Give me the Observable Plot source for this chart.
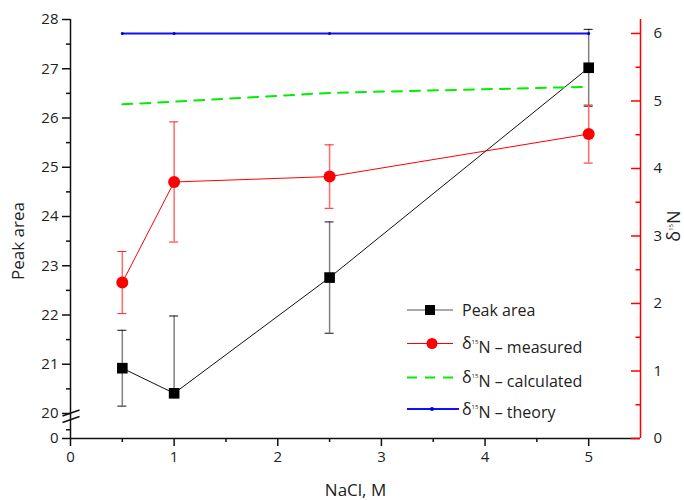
<!DOCTYPE html>
<html><head><meta charset="utf-8">
<script src="https://cdn.jsdelivr.net/npm/d3@7"></script>
<script src="https://cdn.jsdelivr.net/npm/@observablehq/plot@0.6"></script>
<style>
body{margin:0;background:#fff;}
#chart{position:relative;width:684px;height:500px;font-family:"Open Sans",sans-serif;}
#chart svg{position:absolute;left:0;top:0;overflow:visible;}
</style></head><body><div id="chart"></div>
<script>
// ---- data ----
const nacl = [0.5, 1, 2.5, 5];
const peakArea = [20.92, 20.41, 22.76, 27.02];
const peakErrLow = [0.77, 0, 1.13, 0.78];
const peakErrHigh = [0.77, 1.57, 1.13, 0.78];
const d15Measured = [2.31, 3.80, 3.88, 4.51];
const d15MeasuredErr = [0.46, 0.89, 0.47, 0.43];
const d15Calculated = [4.95, 4.99, 5.12, 5.21];
const d15Theory = [6, 6, 6, 6];
// ---- ticks ----
const xTicks = [0, 1, 2, 3, 4, 5];
const xMinorTicks = [0.5, 1.5, 2.5, 3.5, 4.5];
const leftTicks = [0, 20, 21, 22, 23, 24, 25, 26, 27, 28];
const leftMinorTicks = [7, 20.5, 21.5, 22.5, 23.5, 24.5, 25.5, 26.5, 27.5];
const rightTicks = [0, 1, 2, 3, 4, 5, 6];
const rightMinorTicks = [0.5, 1.5, 2.5, 3.5, 4.5, 5.5];
const legendLabels = ["Peak area", " – measured", " – calculated", " – theory"];
const xLabel = "NaCl, M";
const yLabel = "Peak area";
// axis-break decoration (two slashes)
const breakMarks = [{x1: -0.077, y1: 18.0, x2: 0.087, y2: 20.07}, {x1: -0.077, y1: 12.8, x2: 0.087, y2: 17.6}];

const peak = nacl.map((x, i) => ({x, y: peakArea[i], lo: peakArea[i] - peakErrLow[i], hi: peakArea[i] + peakErrHigh[i]}));
const meas = nacl.map((x, i) => ({x, y: d15Measured[i], lo: d15Measured[i] - d15MeasuredErr[i], hi: d15Measured[i] + d15MeasuredErr[i]}));
const calc = nacl.map((x, i) => ({x, y: d15Calculated[i]}));
const theo = nacl.map((x, i) => ({x, y: d15Theory[i]}));

const W = 684, H = 500, ML = 70, MR = 44, MT = 19, MB = 62;
const xDomain = [0, 5.5];
const common = {width: W, height: H, marginLeft: ML, marginRight: MR, marginTop: MT, marginBottom: MB,
  style: {fontFamily: "'Open Sans', sans-serif", fontSize: "14px", background: "transparent", color: "#222"}};

const plotLeft = Plot.plot({
  ...common,
  x: {domain: xDomain, axis: null},
  y: {type: "linear", domain: [0, 20, 28], range: [H - MB, H - MB - 25, MT], axis: null},
  marks: [
    Plot.ruleY([0], {stroke: "#111", strokeWidth: 1.5}),
    Plot.ruleX([0], {stroke: "#111", strokeWidth: 1.5}),
    Plot.axisX(xTicks, {tickSize: 8, tickPadding: 5, stroke: "#111", strokeWidth: 1.5, fontSize: 15, tickFormat: d3.format("d")}),
    Plot.axisX(xMinorTicks, {tickSize: 4, tickFormat: () => "", stroke: "#111", strokeWidth: 1.5}),
    Plot.axisY(leftTicks, {tickSize: 8, tickPadding: 4, stroke: "#111", strokeWidth: 1.5, fontSize: 15, tickFormat: d3.format("d")}),
    Plot.axisY(leftMinorTicks, {tickSize: 4, tickFormat: () => "", stroke: "#111", strokeWidth: 1.5}),
    Plot.link(breakMarks, {x1: "x1", y1: "y1", x2: "x2", y2: "y2", stroke: "#111", strokeWidth: 1.5}),
    Plot.ruleX(peak, {x: "x", y1: "lo", y2: "hi", stroke: "#808080", strokeWidth: 1.5}),
    Plot.ruleY(peak.filter(d => d.hi > d.y), {y: "hi", x1: "x", x2: "x", insetLeft: -4.5, insetRight: -4.5, stroke: "#111"}),
    Plot.ruleY(peak.filter(d => d.lo < d.y), {y: "lo", x1: "x", x2: "x", insetLeft: -4.5, insetRight: -4.5, stroke: "#111"}),
    Plot.lineY(peak, {x: "x", y: "y", stroke: "#111", strokeWidth: 1}),
    Plot.dot(peak, {x: "x", y: "y", symbol: "square", r: 6, fill: "#000"}),
    Plot.text([xLabel], {frameAnchor: "bottom", textAnchor: "middle", dy: 57, fontSize: 17, fill: "#222"}),
    Plot.text([yLabel], {frameAnchor: "left", textAnchor: "middle", dx: -52, dy: 12, rotate: -90, fontSize: 17, fill: "#222"})
  ]
});

const plotRight = Plot.plot({
  ...common,
  x: {domain: xDomain, axis: null},
  y: {domain: [0, 6.207], range: [H - MB, MT], axis: null},
  marks: [
    Plot.ruleX([5.5], {stroke: "#ff0000", strokeWidth: 1.5}),
    Plot.ruleY(rightTicks, {y: d => d, x1: 5.5, x2: 5.5, insetLeft: -9, stroke: "#ff0000", strokeWidth: 1.5}),
    Plot.ruleY(rightMinorTicks, {y: d => d, x1: 5.5, x2: 5.5, insetLeft: -4.5, stroke: "#ff0000", strokeWidth: 1.5}),
    Plot.axisY(rightTicks, {anchor: "right", tickSize: 0, tickPadding: 13, fontSize: 15, tickFormat: d3.format("d")}),
    Plot.ruleX(meas, {x: "x", y1: "lo", y2: "hi", stroke: "#ff6a6a", strokeWidth: 1.5}),
    Plot.ruleY(meas, {y: "hi", x1: "x", x2: "x", insetLeft: -4.5, insetRight: -4.5, stroke: "#ff2020"}),
    Plot.ruleY(meas, {y: "lo", x1: "x", x2: "x", insetLeft: -4.5, insetRight: -4.5, stroke: "#ff2020"}),
    Plot.lineY(meas, {x: "x", y: "y", stroke: "#ff0000", strokeWidth: 1}),
    Plot.dot(meas, {x: "x", y: "y", r: 6, fill: "#ff0000"}),
    Plot.lineY(calc, {x: "x", y: "y", stroke: "#00ee00", strokeWidth: 2, strokeDasharray: "10,8"}),
    Plot.lineY(theo, {x: "x", y: "y", stroke: "#1010ff", strokeWidth: 2}),
    Plot.dot(theo, {x: "x", y: "y", r: 1.5, fill: "#0000cc"})
  ]
});

const chart = document.getElementById("chart");
chart.appendChild(plotLeft);
chart.appendChild(plotRight);

// ---- overlay: legend & right axis label ----
const ov = d3.select(chart).append("svg").attr("width", W).attr("height", H)
  .style("font-family", "'Open Sans', sans-serif");
const rowsY = [310, 343.5, 377.5, 409];
const lx0 = 407, lx1 = 453, lmid = 430, tx = 462;
// Peak area
ov.append("line").attr("x1", lx0).attr("x2", lx1).attr("y1", rowsY[0]).attr("y2", rowsY[0]).attr("stroke", "#555").attr("stroke-width", 1.2);
ov.append("rect").attr("x", lmid - 5).attr("y", rowsY[0] - 5).attr("width", 10).attr("height", 10).attr("fill", "#000");
// measured
ov.append("line").attr("x1", lx0).attr("x2", lx1).attr("y1", rowsY[1]).attr("y2", rowsY[1]).attr("stroke", "#ff0000").attr("stroke-width", 1);
ov.append("circle").attr("cx", lmid + 2).attr("cy", rowsY[1]).attr("r", 5.5).attr("fill", "#ff0000");
// calculated
ov.append("line").attr("x1", lx0).attr("x2", lx1).attr("y1", rowsY[2]).attr("y2", rowsY[2]).attr("stroke", "#00ee00").attr("stroke-width", 2).attr("stroke-dasharray", "10,8");
// theory
ov.append("line").attr("x1", lx0).attr("x2", lx1 + 6).attr("y1", rowsY[3]).attr("y2", rowsY[3]).attr("stroke", "#1010ff").attr("stroke-width", 2);
ov.append("circle").attr("cx", lmid + 2).attr("cy", rowsY[3]).attr("r", 2).attr("fill", "#0000cc");

legendLabels.forEach((lab, i) => {
  const t = ov.append("text").attr("x", tx).attr("y", rowsY[i]).attr("dy", "0.35em").attr("font-size", 16).attr("fill", "#222");
  if (i === 0) { t.text(lab); return; }
  t.append("tspan").text("δ");
  t.append("tspan").attr("font-size", 6).attr("dy", "-0.9em").text("15");
  t.append("tspan").attr("dy", "0.55em").attr("font-size", 16).text("N" + lab);
});

// right axis label δ15N, rotated
const rl = ov.append("text").attr("transform", "translate(680,226) rotate(-90)").attr("text-anchor", "middle")
  .attr("font-size", 18).attr("fill", "#222");
rl.append("tspan").text("δ");
rl.append("tspan").attr("font-size", 6).attr("dy", "-1.2em").text("15");
rl.append("tspan").attr("font-size", 18).attr("dy", "0.4em").text("N");
</script></body></html>
